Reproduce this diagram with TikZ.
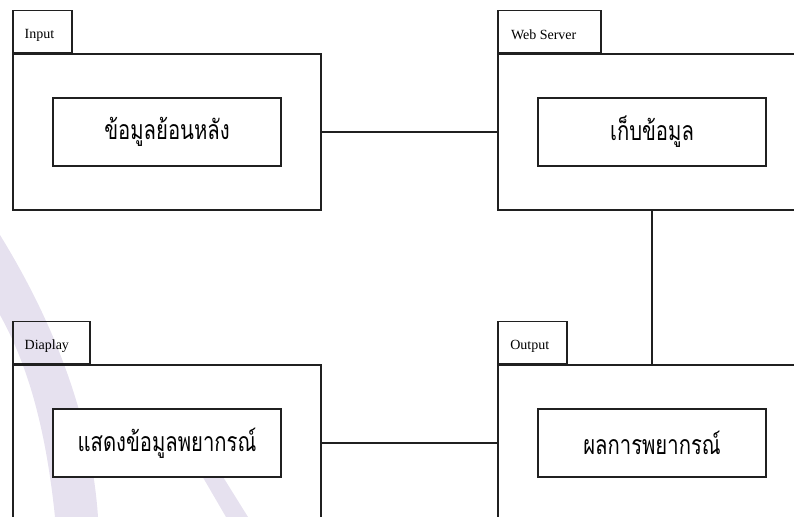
\documentclass[tikz,border=0pt]{standalone}
\usepackage{fontspec}
\setmainfont{Liberation Serif}
\newfontfamily\thaifont[Script=Thai,FakeStretch=0.76]{Loma}
\usetikzlibrary{positioning}
\definecolor{pkgline}{HTML}{202020}
\definecolor{wmark}{HTML}{E6E1EF}

\begin{document}
\begin{tikzpicture}[x=0.75pt,y=-0.75pt,
      font=\fontsize{10.5}{12}\selectfont,
      pkgbody/.style={draw=pkgline,line width=0.9pt,inner sep=0pt,
                      minimum width=231pt,minimum height=117pt},
      pkgtab/.style={draw=pkgline,line width=0.9pt,inner sep=0pt,
                     minimum height=31.5pt,anchor=south west},
      tabtext/.style={anchor=west,inner sep=0pt},
      usecase/.style={draw=pkgline,line width=0.9pt,fill=white,inner sep=0pt,
                      minimum width=171pt,minimum height=51pt,
                      font=\thaifont\fontsize{20}{24}\selectfont},
      link/.style={draw=pkgline,line width=0.9pt}]
    \useasboundingbox (0,0) rectangle (794,517);
    \clip (0,0) rectangle (794,517);
    % watermark in the background
    \fill[wmark] (0,235) .. controls (40,300) and (90,400) .. (98,517)
      -- (55,517) .. controls (45,420) and (25,360) .. (0,315) -- cycle;
    \fill[wmark] (194,462) -- (210,456) -- (248,517) -- (226,517) -- cycle;

    \node[pkgbody] (inp) at (167,132) {};
    \node[pkgbody] (web) at (652,132) {};
    \node[pkgbody] (dsp) at (167,443) {};
    \node[pkgbody] (out) at (652,443) {};

    \node[pkgtab,minimum width=44.25pt] (inptab) at (inp.north west) {};
    \node[pkgtab,minimum width=77.25pt] (webtab) at (web.north west) {};
    \node[pkgtab,minimum width=57.75pt] (dsptab) at (dsp.north west) {};
    \node[pkgtab,minimum width=51.75pt] (outtab) at (out.north west) {};
    \node[tabtext] (inplbl) at ([xshift=9pt,yshift=-2.5pt]inptab.west) {Input};
    \node[tabtext] (weblbl) at ([xshift=10pt,yshift=-2.5pt]webtab.west) {Web Server};
    \node[tabtext] (dsplbl) at ([xshift=9pt,yshift=-2.5pt]dsptab.west) {Diaplay};
    \node[tabtext] (outlbl) at ([xshift=9.5pt,yshift=-2.5pt]outtab.west) {Output};

    \node[usecase] (inpcase) at (inp) {\raisebox{-1.5pt}{ข้อมูลย้อนหลัง}};
    \node[usecase] (webcase) at (web) {\raisebox{-1.5pt}{เก็บข้อมูล}};
    \node[usecase] (dspcase) at (dsp) {\raisebox{-1.5pt}{แสดงข้อมูลพยากรณ์}};
    \node[usecase] (outcase) at (out) {\raisebox{-1.5pt}{ผลการพยากรณ์}};

    \draw[link] (inp) -- (web);
    \draw[link] (web) -- (out);
    \draw[link] (dsp) -- (out);
  \end{tikzpicture}
\end{document}
